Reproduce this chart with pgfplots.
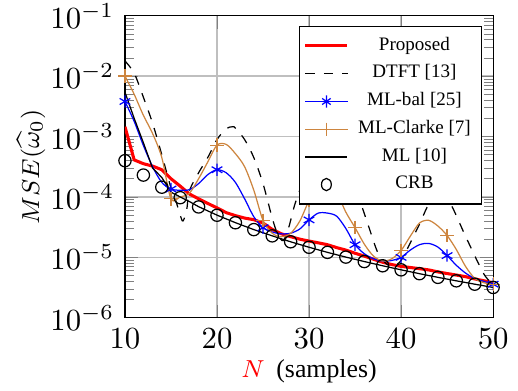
\documentclass[border=0pt]{standalone}
\usepackage{pgfplots}
\usepackage{pgfplotstable}
\usepackage[no-math]{fontspec}
\setmainfont{Liberation Serif}
\pgfplotsset{compat=1.18}
\definecolor{clarke}{RGB}{205,133,63}

\pgfplotstableread{
N v
10 1.45e-3
11 4.1e-4
12 3.55e-4
13 3.24e-4
14 2.82e-4
15 2.0e-4
16 1.51e-4
17 1.12e-4
18 9.3e-5
19 7.8e-5
20 6.6e-5
21 5.5e-5
22 4.9e-5
23 4.47e-5
24 4.2e-5
25 3.7e-5
26 2.9e-5
27 2.45e-5
28 2.2e-5
29 2.0e-5
30 1.86e-5
31 1.74e-5
32 1.62e-5
33 1.45e-5
34 1.32e-5
35 1.17e-5
36 1.05e-5
37 9.3e-6
38 8.3e-6
39 7.6e-6
40 7.1e-6
41 6.8e-6
42 6.5e-6
43 6.2e-6
44 5.75e-6
45 5.4e-6
46 5.1e-6
47 4.8e-6
48 4.4e-6
49 4.1e-6
50 3.8e-6
}\proposed

\pgfplotstableread{
N v
10 1.78e-2
11 1.12e-2
12 4.47e-3
13 1.66e-3
14 5.0e-4
15 1.41e-4
15.5 8.9e-5
16 5.0e-5
16.3 4.0e-5
16.7 6.0e-5
17 1.26e-4
18 2.51e-4
19 4.5e-4
20 8.9e-4
21 1.35e-3
21.7 1.45e-3
22 1.38e-3
23 8.9e-4
24 4.47e-4
25 1.66e-4
26 4.47e-5
26.6 2.4e-5
27.2 1.9e-5
27.8 3.16e-5
28.5 7.9e-5
29.5 1.9e-4
31 3.55e-4
32.5 4.47e-4
34 2.82e-4
35.5 8.7e-5
36.5 3.16e-5
37.5 1.17e-5
38.5 7.6e-6
39.2 7.1e-6
40 8.9e-6
40.7 1.41e-5
42 3.55e-5
43 7.6e-5
44.3 1.41e-4
45.6 6.6e-5
47 2.24e-5
48.8 6.0e-6
49.5 4.2e-6
50 3.55e-6
}\dtft

\pgfplotstableread{
N v
10 3.8e-3
11 1.78e-3
12 7.1e-4
13 3.16e-4
14 1.74e-4
15 1.35e-4
16 1.29e-4
17 1.32e-4
18 1.66e-4
19 2.34e-4
20 2.82e-4
21 2.51e-4
22 1.74e-4
23 9.3e-5
24 4.7e-5
25 3.1e-5
26 2.63e-5
27 2.45e-5
28 2.51e-5
29 2.95e-5
30 4.17e-5
31 5.4e-5
32 5.4e-5
33 4.8e-5
34 3.0e-5
35 1.62e-5
36 1.15e-5
37 9.5e-6
38 8.7e-6
39 8.9e-6
40 1.0e-5
41 1.32e-5
42 1.62e-5
43 1.7e-5
44 1.48e-5
45 1.07e-5
46 7.4e-6
47 5.5e-6
48 4.47e-6
49 4.0e-6
50 3.6e-6
}\mlbal

\pgfplotstableread{
N v
10 1.0e-2
11 5.0e-3
12 2.24e-3
13 1.12e-3
14 4.5e-4
15 9.3e-5
16 1.0e-4
17 1.15e-4
18 2.0e-4
19 3.8e-4
20 7.2e-4
21 7.4e-4
22 5.2e-4
23 3.16e-4
24 1.29e-4
25 4.1e-5
26 2.51e-5
27 2.2e-5
28 2.5e-5
29 4.0e-5
30 8.7e-5
31 1.5e-4
32 1.8e-4
33 1.2e-4
34 5.6e-5
35 3.1e-5
36 1.66e-5
37 1.05e-5
38 8.7e-6
39 9.5e-6
40 1.3e-5
41 2.24e-5
42 3.7e-5
43 4.1e-5
44 3.3e-5
45 2.3e-5
46 1.35e-5
47 7.1e-6
48 4.5e-6
49 3.8e-6
50 3.6e-6
}\mlclarke

\pgfplotstableread{
N v
10 5.4e-3
11 2.0e-3
12 7.9e-4
13 3.0e-4
14 2.1e-4
15 1.2e-4
16 1.0e-4
17 8.4e-5
18 6.9e-5
20 5.0e-5
22 3.75e-5
24 2.88e-5
26 2.27e-5
28 1.81e-5
30 1.47e-5
32 1.21e-5
34 1.01e-5
36 8.53e-6
38 7.26e-6
40 6.22e-6
42 5.37e-6
44 4.67e-6
46 4.09e-6
48 3.60e-6
50 3.18e-6
}\ml

\pgfplotstableread{
N v
10 3.98e-4
12 2.30e-4
14 1.45e-4
16 9.72e-5
18 6.83e-5
20 4.98e-5
22 3.74e-5
24 2.88e-5
26 2.27e-5
28 1.81e-5
30 1.47e-5
32 1.21e-5
34 1.01e-5
36 8.53e-6
38 7.26e-6
40 6.22e-6
42 5.37e-6
44 4.67e-6
46 4.09e-6
48 3.60e-6
50 3.18e-6
}\crb

\begin{document}
\begin{tikzpicture}
\useasboundingbox (-40.7pt,-23.8pt) rectangle (128pt,103.5pt);
\begin{axis}[
  at={(0,0)}, anchor=south west,
  scale only axis,
  width=119.9pt, height=98.4pt,
  ymode=log,
  xmin=10, xmax=50, ymin=1e-6, ymax=1e-1,
  xtick={10,20,30,40,50},
  ytick={1e-6,1e-5,1e-4,1e-3,1e-2,1e-1},
  grid=major,
  tick label style={font=\fontsize{10}{12}\selectfont},
  label style={font=\fontsize{8.4}{10}\selectfont},
  xlabel={\textcolor{red}{$N$}\hspace{0.45em}(samples)},
  ylabel={$MSE(\widehat{\omega}_0)$},
  xlabel style={at={(axis description cs:0.5,-0.176)}, anchor=center},
  ylabel style={at={(axis description cs:-0.255,0.5)}, anchor=center},
  legend style={at={(0.970,0.967)}, anchor=north east,
    font=\fontsize{6.2}{7.4}\selectfont, cells={anchor=center},
    draw=black, fill=white, inner sep=1.5pt, row sep=-0.75pt,
    /tikz/every odd column/.append style={column sep=1pt}},
  legend image post style={xscale=0.8},
]
\addplot[red, line width=1pt] table[x=N,y=v] {\proposed};
\addlegendentry{Proposed}
\addplot[black, dashed, thin, smooth] table[x=N,y=v] {\dtft};
\addlegendentry{DTFT [13]}
\addplot[blue, thin, smooth, mark=asterisk, mark repeat=5, mark size=2pt] table[x=N,y=v] {\mlbal};
\addlegendentry{ML-bal [25]}
\addplot[clarke, thin, smooth, mark=+, mark repeat=5, mark size=2.2pt] table[x=N,y=v] {\mlclarke};
\addlegendentry{ML-Clarke [7]}
\addplot[black, thin] table[x=N,y=v] {\ml};
\addlegendentry{ML [10]}
\addplot[black, only marks, mark=o, mark size=2pt, thin] table[x=N,y=v] {\crb};
\addlegendentry{CRB}
\end{axis}
\end{tikzpicture}
\end{document}
